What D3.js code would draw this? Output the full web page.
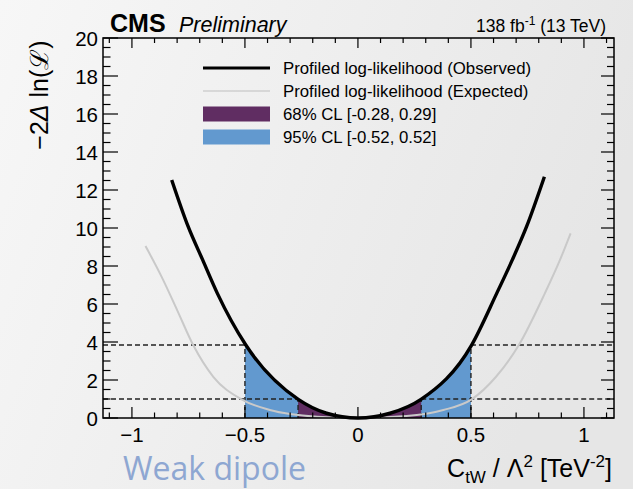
<!DOCTYPE html>
<html>
<head>
<meta charset="utf-8">
<script src="https://cdn.jsdelivr.net/npm/d3@7"></script>
<style>
  body { margin: 0; }
  svg { display: block; }
</style>
</head>
<body>
<div id="chart"></div>
<script>
// Observed profiled likelihood
let obsX = [-0.824, -0.751, -0.687, -0.622, -0.496, -0.264, -0.139, 0.0, 0.142, 0.279, 0.503, 0.614, 0.683, 0.746, 0.825];
let obsY = [12.53, 10.07, 8.32, 6.56, 3.84, 0.98, 0.25, 0.0, 0.25, 0.98, 3.84, 6.56, 8.32, 10.07, 12.7];

// Expected profiled likelihood
let expX = [-0.94, -0.869, -0.80, -0.729, -0.64, -0.515, -0.39, -0.18, 0.0, 0.215, 0.378, 0.503, 0.611, 0.712, 0.827, 0.894, 0.941];
let expY = [9.05, 7.44, 5.68, 3.84, 2.17, 0.98, 0.42, 0.07, 0.0, 0.1, 0.42, 0.98, 2.17, 3.84, 6.56, 8.32, 9.72];

// confidence intervals (where they sit in the plot) and thresholds
let cl68 = [-0.265, 0.28];
let cl95 = [-0.50, 0.50];
let thr68 = 1.0;
let thr95 = 3.84;

let xTicks = [-1, -0.5, 0, 0.5, 1];
let yTicks = [0, 2, 4, 6, 8, 10, 12, 14, 16, 18, 20];

let legendLabels = ["Profiled log-likelihood (Observed)", "Profiled log-likelihood (Expected)",
                    "68% CL [-0.28, 0.29]", "95% CL [-0.52, 0.52]"];

let svgWidth = 633, svgHeight = 489;
let pLeft = 103, pRight = 614, pTop = 38, pBottom = 418;
let purple = "#602d62", blue = "#6299cf";

let svg = d3.select("#chart").append("svg")
  .attr("width", svgWidth).attr("height", svgHeight);

let defs = svg.append("defs");
let grad = defs.append("linearGradient").attr("id", "bg")
  .attr("x1", 0).attr("y1", 0).attr("x2", 1).attr("y2", 0.3);
grad.append("stop").attr("offset", "0%").attr("stop-color", "#f7f7f7");
grad.append("stop").attr("offset", "100%").attr("stop-color", "#e6e6e6");
svg.append("rect").attr("width", svgWidth).attr("height", svgHeight).attr("fill", "url(#bg)");

let x = d3.scaleLinear().domain([-1.128, 1.133]).range([pLeft, pRight]);
let y = d3.scaleLinear().domain([0, 20]).range([pBottom, pTop]);

let obs = obsX.map((v, i) => [v, obsY[i]]);
let exp = expX.map((v, i) => [v, expY[i]]);

// bands under the observed curve, clipped to each interval
function band(id, lo, hi, color) {
  defs.append("clipPath").attr("id", id).append("rect")
    .attr("x", x(lo)).attr("y", pTop)
    .attr("width", x(hi) - x(lo)).attr("height", pBottom - pTop);
  svg.append("path")
    .datum(obs)
    .attr("clip-path", `url(#${id})`)
    .attr("fill", color)
    .attr("d", d3.area().x(d => x(d[0])).y0(y(0)).y1(d => y(d[1])).curve(d3.curveMonotoneX));
}
band("c95", cl95[0], cl95[1], blue);
band("c68", cl68[0], cl68[1], purple);

// dashed threshold lines
let dash = svg.append("g").attr("stroke", "#222").attr("stroke-width", 1.4)
  .attr("stroke-dasharray", "5,3").attr("fill", "none");
[[thr95, cl95], [thr68, cl68]].forEach(([t, c]) => {
  dash.append("line").attr("x1", x.range()[0]).attr("x2", x(c[0])).attr("y1", y(t)).attr("y2", y(t));
  dash.append("line").attr("x1", x(c[1])).attr("x2", x.range()[1]).attr("y1", y(t)).attr("y2", y(t));
  dash.append("line").attr("x1", x(c[0])).attr("x2", x(c[0])).attr("y1", y(0)).attr("y2", y(t));
  dash.append("line").attr("x1", x(c[1])).attr("x2", x(c[1])).attr("y1", y(0)).attr("y2", y(t));
});

let line = d3.line().x(d => x(d[0])).y(d => y(d[1])).curve(d3.curveMonotoneX);
svg.append("path").datum(exp).attr("fill", "none")
  .attr("stroke", "#c9c9c9").attr("stroke-width", 2).attr("d", line);
svg.append("path").datum(obs).attr("fill", "none")
  .attr("stroke", "#000").attr("stroke-width", 3.4).attr("d", line);

// frame
svg.append("rect").attr("x", pLeft).attr("y", pTop)
  .attr("width", pRight - pLeft).attr("height", pBottom - pTop)
  .attr("fill", "none").attr("stroke", "#000").attr("stroke-width", 1.5);

// ticks, ROOT style (inside, mirrored)
let tk = svg.append("g").attr("stroke", "#000").attr("stroke-width", 1.2);
let xMinor = d3.range(-11, 12).map(i => i / 10);
xMinor.forEach(v => {
  let major = xTicks.some(t => Math.abs(t - v) < 1e-6);
  let lb = major ? 11 : 5.5, lt = major ? 10 : 5;
  tk.append("line").attr("x1", x(v)).attr("x2", x(v)).attr("y1", pBottom).attr("y2", pBottom - lb);
  tk.append("line").attr("x1", x(v)).attr("x2", x(v)).attr("y1", pTop).attr("y2", pTop + lt);
});
let yMinor = d3.range(0, 41).map(i => i / 2);
yMinor.forEach(v => {
  let major = yTicks.includes(v);
  let ll = major ? 15 : 7.5, lr = major ? 13 : 7;
  tk.append("line").attr("x1", pLeft).attr("x2", pLeft + ll).attr("y1", y(v)).attr("y2", y(v));
  tk.append("line").attr("x1", pRight).attr("x2", pRight - lr).attr("y1", y(v)).attr("y2", y(v));
});

let font = "'Liberation Sans', Arial, Helvetica, sans-serif";
svg.append("g").selectAll("text").data(xTicks).join("text")
  .attr("x", d => x(d)).attr("y", 442)
  .attr("text-anchor", "middle").attr("font-family", font).attr("font-size", 20.5)
  .text(d => String(d).replace("-", "\u2212"));
svg.append("g").selectAll("text").data(yTicks).join("text")
  .attr("x", 98).attr("y", d => y(d) + 7.5)
  .attr("text-anchor", "end").attr("font-family", font).attr("font-size", 20.5)
  .text(d => d);

// axis titles
svg.append("text").attr("transform", "translate(48,95) rotate(-90)")
  .attr("text-anchor", "middle").attr("font-family", font).attr("font-size", 25)
  .html("\u22122<tspan font-style='italic'>\u0394</tspan> ln(\u2112)");
let xt = svg.append("text").attr("x", 612).attr("y", 477)
  .attr("text-anchor", "end").attr("font-family", font).attr("font-size", 25);
xt.append("tspan").text("C");
xt.append("tspan").attr("font-size", 17).attr("dy", 6).text("tW");
xt.append("tspan").attr("dy", -6).text(" / \u039B");
xt.append("tspan").attr("font-size", 17).attr("dy", -10).text("2");
xt.append("tspan").attr("dy", 10).text(" [TeV");
xt.append("tspan").attr("font-size", 17).attr("dy", -10).text("-2");
xt.append("tspan").attr("dy", 10).text("]");

// header
svg.append("text").attr("x", 110).attr("y", 32).attr("font-family", font)
  .attr("font-size", 25).attr("font-weight", "bold").text("CMS");
svg.append("text").attr("x", 179).attr("y", 32).attr("font-family", font)
  .attr("font-size", 21.5).attr("font-style", "italic").text("Preliminary");
let lumi = svg.append("text").attr("x", 606).attr("y", 32).attr("text-anchor", "end")
  .attr("font-family", font).attr("font-size", 17.5);
lumi.append("tspan").text("138 fb");
lumi.append("tspan").attr("font-size", 12).attr("dy", -7).text("-1");
lumi.append("tspan").attr("dy", 7).text(" (13 TeV)");

// legend
let legY = [68, 91, 114, 137];
let lg = svg.append("g");
lg.append("line").attr("x1", 203).attr("x2", 270).attr("y1", legY[0]).attr("y2", legY[0])
  .attr("stroke", "#000").attr("stroke-width", 3.2);
lg.append("line").attr("x1", 203).attr("x2", 270).attr("y1", legY[1]).attr("y2", legY[1])
  .attr("stroke", "#cfcfcf").attr("stroke-width", 1.6);
lg.append("rect").attr("x", 203).attr("y", legY[2] - 7.5).attr("width", 67).attr("height", 15).attr("fill", purple);
lg.append("rect").attr("x", 203).attr("y", legY[3] - 7.5).attr("width", 67).attr("height", 15).attr("fill", blue);
lg.selectAll("text").data(legendLabels).join("text")
  .attr("x", 283).attr("y", (d, i) => legY[i] + 6)
  .attr("font-family", font).attr("font-size", 16.8).text(d => d);

// slide caption
svg.append("text").attr("x", 123).attr("y", 480)
  .attr("font-family", "'Open Sans', 'Noto Sans', sans-serif").attr("font-size", 32)
  .attr("fill", "#8ea7d2").text("Weak dipole");
</script>
</body>
</html>
